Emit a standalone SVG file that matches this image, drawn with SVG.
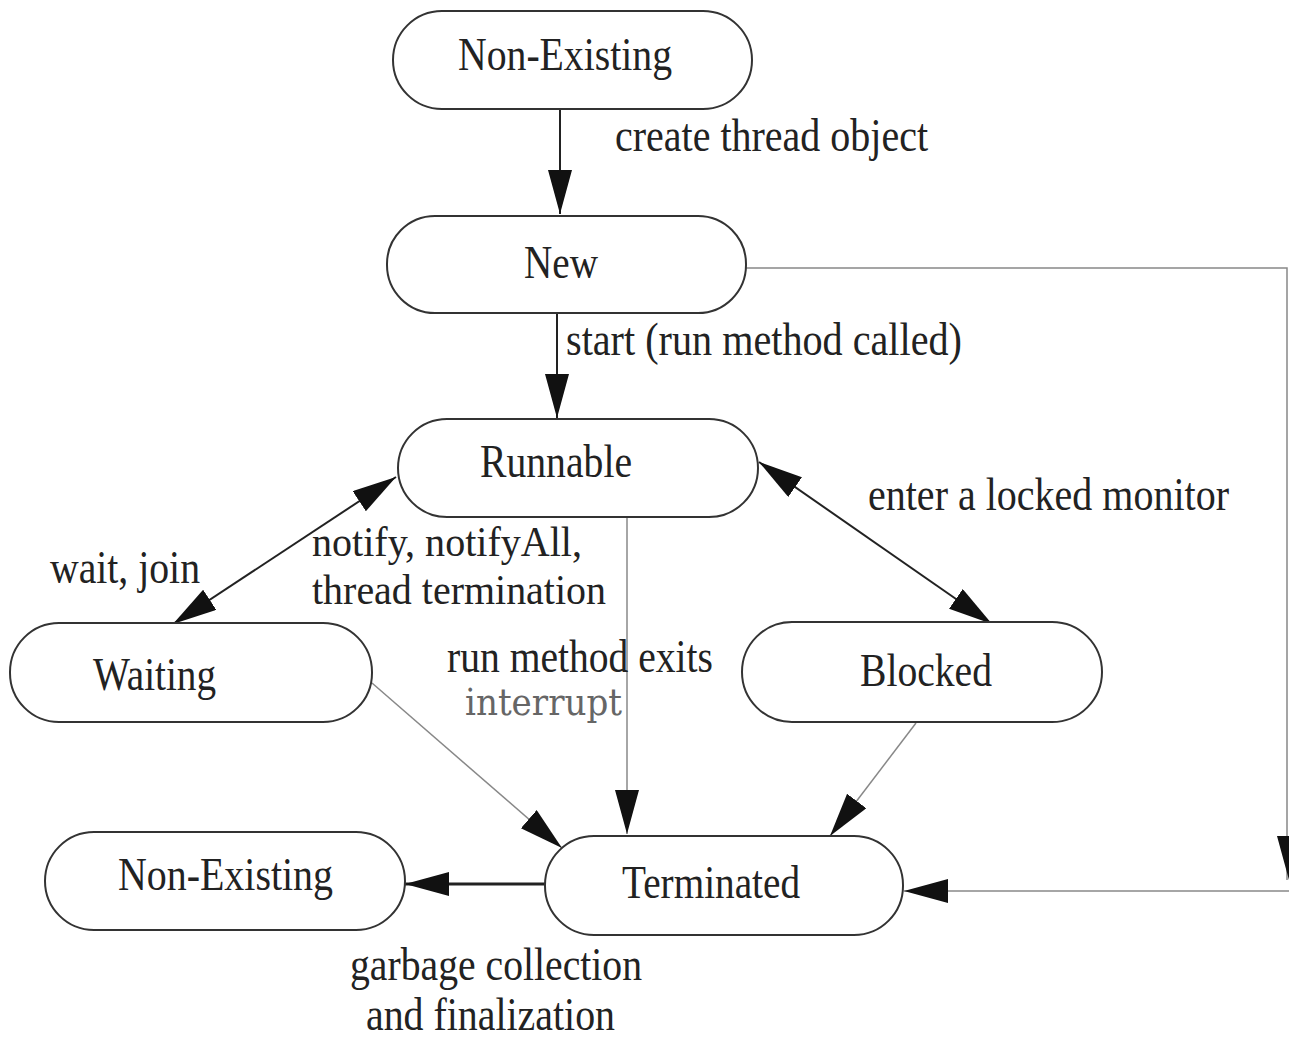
<svg xmlns="http://www.w3.org/2000/svg" width="1289" height="1039" viewBox="0 0 1289 1039">
<style>
.node{fill:#fff;stroke:#333;stroke-width:2}
.t{font-family:"Liberation Serif","Times New Roman",serif;font-size:46px;fill:#222}
.s{font-size:43px}
.dark{fill:none;stroke:#222;stroke-width:2}
.thick{fill:none;stroke:#222;stroke-width:3}
.thin{fill:none;stroke:#888;stroke-width:1.5}
.ah{fill:#111}
</style>
<defs>
<marker id="arr" markerUnits="userSpaceOnUse" markerWidth="46" markerHeight="26" refX="44" refY="12" orient="auto-start-reverse" viewBox="0 0 46 26">
<path d="M0,0 L44,12 L0,24 z" class="ah"/>
</marker>
</defs>
<rect width="1289" height="1039" fill="#fff"/>
<g id="connectors">
<line class="dark" x1="560" y1="110" x2="560" y2="214" marker-end="url(#arr)"/>
<line class="dark" x1="557" y1="313" x2="557" y2="418" marker-end="url(#arr)"/>
<line class="dark" x1="396" y1="477" x2="173" y2="624" marker-start="url(#arr)" marker-end="url(#arr)"/>
<line class="dark" x1="759" y1="462" x2="992" y2="624" marker-start="url(#arr)" marker-end="url(#arr)"/>
<line class="thin" x1="627" y1="517" x2="627" y2="834" marker-end="url(#arr)"/>
<line class="thin" x1="372" y1="683" x2="562" y2="848" marker-end="url(#arr)"/>
<line class="thin" x1="916" y1="723" x2="830" y2="836" marker-end="url(#arr)"/>
<line class="thick" x1="545" y1="884" x2="405" y2="884" marker-end="url(#arr)"/>
<polyline class="thin" points="746,268 1287,268 1287,880"/>
<path d="M1277,836 L1301,836 L1289,880 z" class="ah"/>
<line class="thin" x1="1289" y1="891" x2="904" y2="891" marker-end="url(#arr)"/>
</g>
<g id="nonexisting-top">
<rect class="node" x="393" y="11" width="359" height="98" rx="49"/>
<text class="t" x="458" y="70" textLength="214" lengthAdjust="spacingAndGlyphs">Non-Existing</text>
</g>
<g id="new">
<rect class="node" x="387" y="216" width="359" height="97" rx="48"/>
<text class="t" x="524" y="278" textLength="74" lengthAdjust="spacingAndGlyphs">New</text>
</g>
<g id="runnable">
<rect class="node" x="398" y="419" width="360" height="98" rx="49"/>
<text class="t" x="480" y="477" textLength="152" lengthAdjust="spacingAndGlyphs">Runnable</text>
</g>
<g id="waiting">
<rect class="node" x="10" y="623" width="362" height="99" rx="49"/>
<text class="t" x="93" y="690" textLength="123" lengthAdjust="spacingAndGlyphs">Waiting</text>
</g>
<g id="blocked">
<rect class="node" x="742" y="622" width="360" height="100" rx="50"/>
<text class="t" x="860" y="686" textLength="132" lengthAdjust="spacingAndGlyphs">Blocked</text>
</g>
<g id="nonexisting-bottom">
<rect class="node" x="45" y="832" width="360" height="98" rx="49"/>
<text class="t" x="118" y="890" textLength="215" lengthAdjust="spacingAndGlyphs">Non-Existing</text>
</g>
<g id="terminated">
<rect class="node" x="545" y="836" width="358" height="99" rx="49"/>
<text class="t" x="622" y="898" textLength="178" lengthAdjust="spacingAndGlyphs">Terminated</text>
</g>
<g id="labels">
<text class="t" x="615" y="151" textLength="313" lengthAdjust="spacingAndGlyphs">create thread object</text>
<text class="t" x="566" y="355" textLength="396" lengthAdjust="spacingAndGlyphs">start (run method called)</text>
<text class="t" x="868" y="510" textLength="361" lengthAdjust="spacingAndGlyphs">enter a locked monitor</text>
<text class="t" x="50" y="583" textLength="150" lengthAdjust="spacingAndGlyphs">wait, join</text>
<text class="t s" x="312" y="556" textLength="270" lengthAdjust="spacingAndGlyphs">notify, notifyAll,</text>
<text class="t s" x="312" y="604" textLength="294" lengthAdjust="spacingAndGlyphs">thread termination</text>
<text class="t" x="447" y="672" textLength="266" lengthAdjust="spacingAndGlyphs">run method exits</text>
<text x="465" y="715" textLength="157" lengthAdjust="spacingAndGlyphs" style="font-family:'DejaVu Serif',serif;font-size:38px;fill:#666">interrupt</text>
<text class="t" x="350" y="980" textLength="292" lengthAdjust="spacingAndGlyphs">garbage collection</text>
<text class="t" x="366" y="1030" textLength="249" lengthAdjust="spacingAndGlyphs">and finalization</text>
</g>
</svg>
